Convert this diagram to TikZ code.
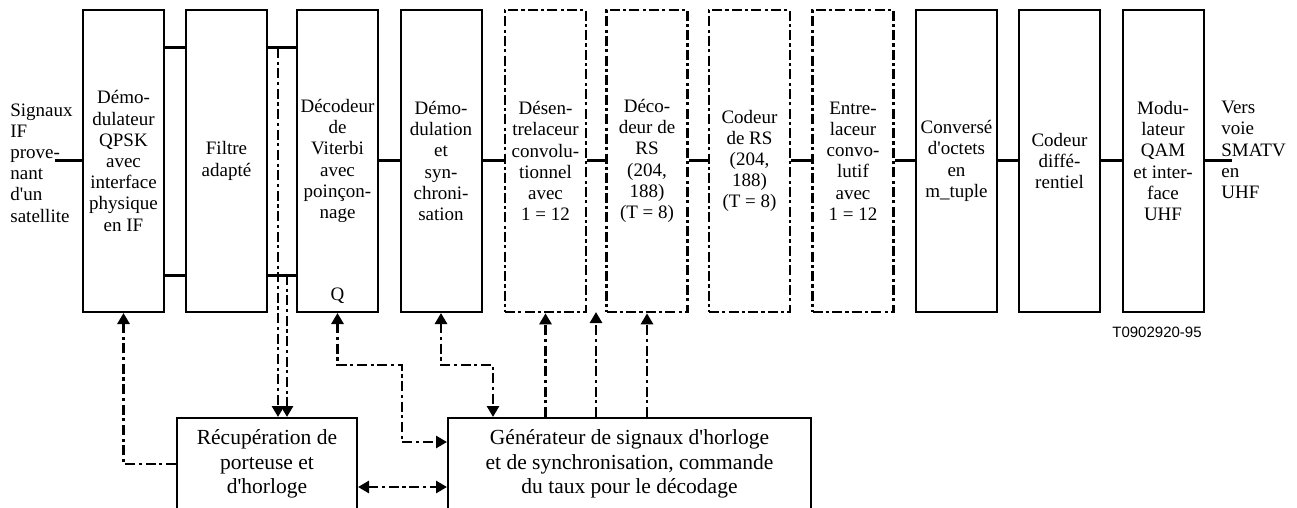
\documentclass[tikz,border=0pt]{standalone}
\usepackage{fontspec}
\setmainfont{Liberation Serif}
\newfontfamily\reffont{Liberation Sans}
\usetikzlibrary{arrows.meta}
\newcommand{\ap}{\textquotesingle}

\begin{document}
\begin{tikzpicture}[x=0.5pt,y=-0.5pt,
    bloc/.style={draw, line width=1pt, minimum width=40.5pt, minimum height=151pt, inner sep=0pt, align=center, font=\fontsize{9.5}{10.6}\selectfont},
    blocpt/.style={bloc, line width=1.3pt, dash pattern=on 5pt off 1.6pt on 1.6pt off 1.6pt},
    bas/.style={draw, line width=1pt, minimum height=46pt, inner sep=0pt, align=center, font=\fontsize{10.75}{12.4}\selectfont},
    lien/.style={line width=1.5pt},
    ctrl/.style={line width=1.4pt, dash pattern=on 5pt off 1.8pt on 1.6pt off 1.8pt, >={Triangle[width=6pt,length=5.5pt]}},
    txt/.style={inner sep=0pt, align=left, font=\fontsize{9.5}{10.6}\selectfont}]
    \useasboundingbox (0,0) rectangle (1297,508);

    % Chaine de reception
    \node[txt, anchor=west] (src) at (10,163) {Signaux\\IF\\prove-\\nant\\d\ap un\\satellite};
    \node[bloc] (qpsk) at (123.5,161) {Démo-\\dulateur\\QPSK\\avec\\interface\\physique\\en IF};
    \node[bloc] (filtre) at (226.5,161) {Filtre\\adapté};
    \node[bloc] (viterbi) at (337.5,161) {Décodeur\\de\\Viterbi\\avec\\poinçon-\\nage};
    \node[anchor=base, inner sep=0pt, font=\fontsize{9.5}{10.6}\selectfont] (q) at ([yshift=6.5pt]viterbi.south) {Q};
    \node[bloc] (demod) at (441,161) {Démo-\\dulation\\et\\syn-\\chroni-\\sation};
    \node[blocpt] (desent) at (545.5,161) {Désen-\\trelaceur\\convolu-\\tionnel\\avec\\1 = 12};
    \node[blocpt] (decrs) at (647,161) {Déco-\\deur de\\RS\\(204,\\188)\\(T = 8)};
    \node[blocpt] (codrs) at (749.5,161) {Codeur\\de RS\\(204,\\188)\\(T = 8)};
    \node[blocpt] (entre) at (853,161) {Entre-\\laceur\\convo-\\lutif\\avec\\1 = 12};
    \node[bloc] (octets) at (956.5,161) {Conversé\\d\ap octets\\en\\m\_tuple};
    \node[bloc] (diff) at (1059.5,161) {Codeur\\diffé-\\rentiel};
    \node[bloc] (qam) at (1163,161) {Modu-\\lateur\\QAM\\et inter-\\face\\UHF};
    \node[txt, anchor=west] (dest) at (1221,150) {Vers\\voie\\SMATV\\en\\UHF};
    \node[inner sep=0pt, font=\reffont\fontsize{7.5}{9}\selectfont] (ref) at (1157,332) {T0902920-95};

    % Blocs de commande
    \node[bas, minimum width=90pt] (recup) at (267,464) {Récupération de\\porteuse et\\d\ap horloge};
    \node[bas, minimum width=181.5pt] (gen) at (629.5,464) {Générateur de signaux d\ap horloge\\et de synchronisation, commande\\du taux pour le décodage};

    % Liaisons de donnees
    \coordinate (entree) at (55,161);
    \coordinate (sortie) at (1232,161);
    \draw[lien] (entree) -- (qpsk);
    \draw[lien] (qpsk.east |- 0,48) -- (filtre.west |- 0,48);
    \draw[lien] (qpsk.east |- 0,275) -- (filtre.west |- 0,275);
    \draw[lien] (filtre.east |- 0,48) -- (viterbi.west |- 0,48);
    \draw[lien] (filtre.east |- 0,275) -- (viterbi.west |- 0,275);
    \draw[lien] (viterbi) -- (demod);
    \draw[lien] (demod) -- (desent);
    \draw[lien] (desent) -- (decrs);
    \draw[lien] (decrs) -- (codrs);
    \draw[lien] (codrs) -- (entre);
    \draw[lien] (entre) -- (octets);
    \draw[lien] (octets) -- (diff);
    \draw[lien] (diff) -- (qam);
    \draw[lien] (qam) -- (sortie);

    % Liaisons de commande
    \coordinate (prise1) at (278,48);
    \coordinate (prise2) at (287,275);
    \coordinate (joint) at (596,312);
    \draw[ctrl,->] (recup.west) -| (qpsk.south);
    \draw[ctrl,->] (prise1) -- (prise1 |- recup.north);
    \draw[ctrl,->] (prise2) -- (prise2 |- recup.north);
    \draw[ctrl,<->] (viterbi.south) |- (402,365) |- (gen.west |- 0,442);
    \draw[ctrl,<->] (demod.south) |- (493,365) -- (493,0 |- gen.north);
    \draw[ctrl,->] (desent.south |- gen.north) -- (desent.south);
    \draw[ctrl,->] (joint |- gen.north) -- (joint);
    \draw[ctrl,->] (decrs.south |- gen.north) -- (decrs.south);
    \draw[ctrl,<->] (recup.east |- 0,487) -- (gen.west |- 0,487);
\end{tikzpicture}
\end{document}
